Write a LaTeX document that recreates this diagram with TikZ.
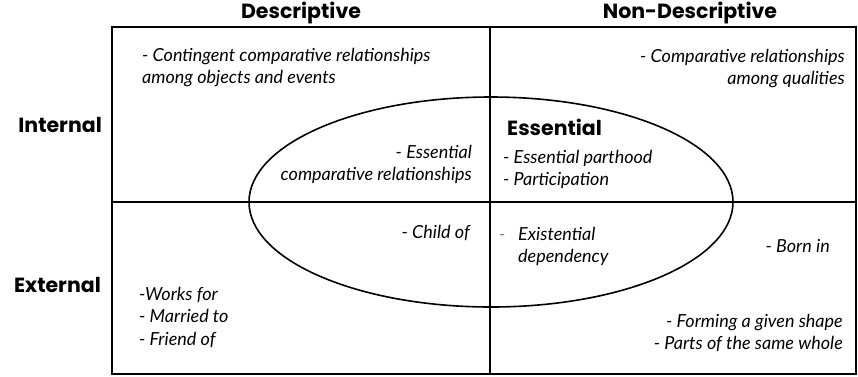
\documentclass[tikz,border=0pt]{standalone}
\usepackage{fontspec}
\setmainfont{Lato}
\newfontfamily\headfont{Poppins}
\usetikzlibrary{positioning}

\tikzset{
  head/.style={font=\headfont\fontsize{20.5}{22}\selectfont\bfseries, inner sep=0pt},
  item/.style={font=\itshape\fontsize{18}{22.5}\selectfont, inner sep=0pt},
  frame/.style={line width=1.6pt},
}

\begin{document}
\begin{tikzpicture}[x=1pt,y=-1pt]
\useasboundingbox (0,0) rectangle (858,376);

% grid of the four fields
\coordinate (nw) at (112,27);
\coordinate (se) at (856,374);
\coordinate (top) at (490,27);
\coordinate (bot) at (490,374);
\coordinate (lft) at (112,202);
\coordinate (rgt) at (856,202);
\draw[frame] (nw) rectangle (se);
\draw[frame] (top) -- (bot);
\draw[frame] (lft) -- (rgt);
\draw[frame] (491,202) ellipse (242pt and 105pt);

% headers
\node[head] (desc) at (301,13) {Descriptive};
\node[head] (nondesc) at (690,13) {Non-Descriptive};
\node[head, anchor=east] (intl) at (102,125) {Internal};
\node[head, anchor=east] (extl) at (101,285) {External};
\node[head, anchor=west] (ess) at (507,127) {Essential};

% upper fields
\node[item, align=left, anchor=north west] (contg) at (142,48)
  {- Contingent comparative relationships\\among objects and events};
\node[item, align=right, anchor=north east] (qual) at (845,49)
  {- Comparative relationships\\among qualities};
\node[item, align=right, anchor=north east] (esscmp) at (472,145)
  {- Essential\\comparative relationships};
\node[item, align=left, anchor=north west] (parth) at (503,150)
  {- Essential parthood\\- Participation};

% lower fields
\node[item, anchor=north east] (child) at (470,225) {- Child of};
\node[item, align=left, anchor=north west] (exist) at (518,227)
  {Existential\\dependency};
\node[item, gray, anchor=base west] (exdash) at (499,240) {-};
\node[item, anchor=north east] (born) at (830,239) {- Born in};
\node[item, align=left, anchor=north west] (works) at (139,287)
  {-Works for\\- Married to\\- Friend of};
\node[item, align=right, anchor=north east] (shape) at (843,314)
  {- Forming a given shape\\- Parts of the same whole};
\end{tikzpicture}
\end{document}
